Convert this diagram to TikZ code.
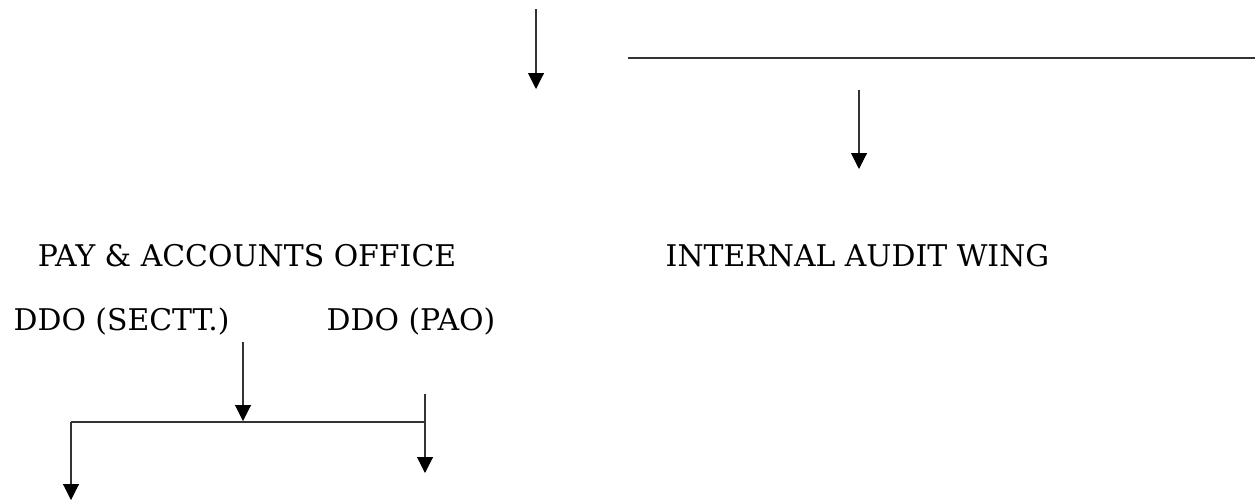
\documentclass[tikz,border=0pt]{standalone}
\usepackage{fontspec}
\setmainfont{DejaVu Serif}
\usetikzlibrary{arrows.meta}
\begin{document}
\begin{tikzpicture}[x=0.75pt,y=-0.75pt,
  conn/.style={line width=0.8pt,draw=black!80},
  arr/.style={conn,-{Triangle[length=12pt,width=12pt,color=black]}},
  lbl/.style={inner sep=0pt,anchor=base,font=\fontsize{22.4pt}{26pt}\selectfont}]
\useasboundingbox (0,0) rectangle (1255,500);
% labels
\node[lbl] (pao) at (247,266) {PAY \& ACCOUNTS OFFICE};
\node[lbl] (iaw) at (857.5,266) {INTERNAL AUDIT WING};
\node[lbl] (ddos) at (121.5,330) {DDO (SECTT.)};
\node[lbl] (ddop) at (411,330) {DDO (PAO)};
% coordinates
\coordinate (a1s) at (536,9);
\coordinate (a1e) at (536,89);
\coordinate (h1l) at (628,58);
\coordinate (h1r) at (1255,58);
\coordinate (a2s) at (859,90);
\coordinate (a2e) at (859,169);
\coordinate (a3s) at (243,342);
\coordinate (a3e) at (243,421);
\coordinate (hl) at (71,422);
\coordinate (hr) at (425,422);
\coordinate (rs) at (425,394);
\coordinate (re) at (425,473);
\coordinate (le) at (71,500);
% connectors
\draw[arr] (a1s) -- (a1e);
\draw[conn] (h1l) -- (h1r);
\draw[arr] (a2s) -- (a2e);
\draw[arr] (a3s) -- (a3e);
\draw[conn] (hl) -- (hr);
\draw[arr] (rs) -- (re);
\draw[arr] (hl) -- (le);
\end{tikzpicture}
\end{document}
